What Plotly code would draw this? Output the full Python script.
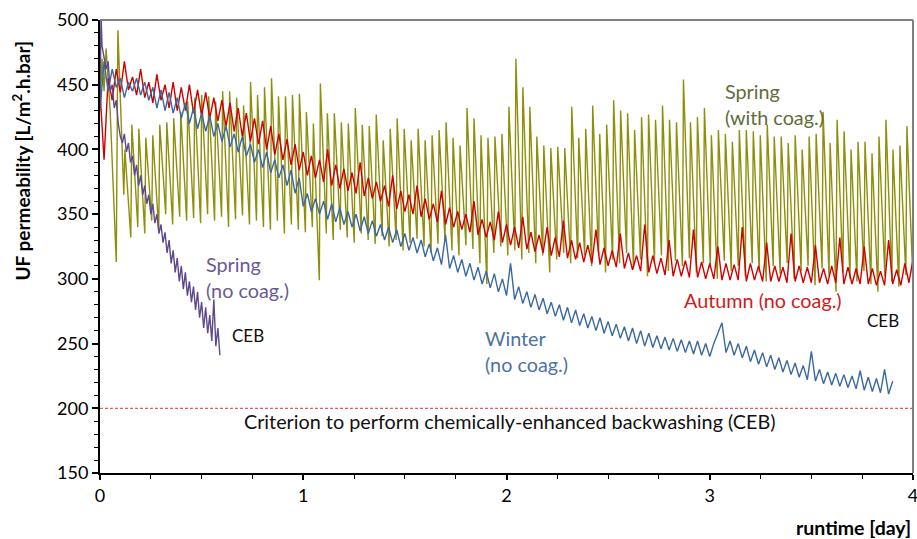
import numpy as np
import plotly.graph_objects as go

# ---------------- data ----------------
# Spring (with coagulant): sawtooth, one peak + following trough per filtration cycle
spring_coag_start_day = [0.0, 0.01, 0.02, 0.03, 0.05, 0.08]
spring_coag_start_val = [430, 470, 445, 478, 430, 313]
spring_coag_first_peak_day = 0.088
spring_coag_last_peak_day = 3.97
spring_coag_end = (4.0, 360)
spring_coag_peak = [
    492, 400, 419, 416, 409, 411, 419, 421, 424, 429, 437, 440, 442, 441, 437, 445, 445, 440, 434, 452, 442, 448, 455, 441,
    441, 442, 443, 429, 420, 451, 428, 428, 421, 420, 432, 419, 418, 427, 407, 416, 424, 416, 407, 416, 407, 411, 415, 421,
    409, 403, 432, 424, 411, 409, 410, 412, 433, 470, 448, 433, 410, 403, 401, 402, 401, 433, 409,
    416, 434, 412, 419, 438, 430, 428, 415, 425, 427, 423, 434, 423, 421, 454, 421, 425, 432, 411, 415, 412, 406, 415, 415,
    414, 411, 419, 410, 410, 405, 411, 400, 410, 412, 429, 405, 423, 414, 400, 406, 406, 397, 410, 423, 400, 403, 418,
]
spring_coag_trough = [
    365, 332, 340, 335, 345, 338, 350, 342, 348, 345, 347, 343, 350, 345, 348, 340, 346, 349, 342, 345, 340, 338, 345, 335,
    342, 338, 336, 340, 299, 335, 330, 338, 332, 328, 335, 330, 327, 333, 325, 330, 322, 328, 331, 325, 320, 327, 330, 322,
    318, 326, 323, 312, 296, 320, 325, 318, 322, 315, 320, 312, 318, 305, 315, 320, 312, 316, 318,
    310, 318, 305, 315, 312, 320, 308, 315, 302, 312, 318, 306, 314, 310, 316, 305, 312, 308, 300, 314, 306, 310, 302, 312,
    305, 298, 310, 304, 312, 300, 306, 310, 295, 308, 302, 290, 305, 300, 298, 306, 296, 290, 302, 298, 294, 303, 300,
]

# Autumn (no coagulant), sampled every 0.02 day from 0 to 4
autumn_step = 0.02
autumn_val = [
    445, 392, 455, 438, 462, 444, 468, 446, 456, 442,
    462, 440, 452, 436, 458, 438, 450, 432, 452, 430,
    448, 430, 450, 428, 446, 426, 444, 424, 440, 422,
    438, 418, 436, 414, 432, 410, 428, 406, 424, 404,
    422, 400, 418, 396, 412, 392, 408, 388, 404, 384,
    398, 380, 395, 378, 392, 375, 400, 372, 388, 370,
    385, 368, 382, 366, 390, 364, 378, 362, 375, 360,
    372, 356, 380, 354, 368, 352, 365, 350, 372, 348,
    362, 346, 358, 344, 368, 342, 355, 340, 352, 338,
    350, 336, 360, 334, 346, 332, 344, 330, 352, 328,
    342, 326, 340, 324, 348, 323, 336, 321, 334, 320,
    340, 318, 332, 317, 345, 316, 330, 315, 328, 313,
    326, 312, 338, 311, 324, 310, 322, 309, 335, 308,
    320, 307, 318, 306, 342, 305, 318, 304, 316, 303,
    330, 302, 315, 302, 314, 301, 338, 301, 313, 300,
    312, 300, 325, 299, 312, 299, 311, 299, 340, 298,
    312, 299, 310, 298, 328, 298, 310, 298, 309, 297,
    335, 298, 310, 297, 309, 297, 326, 297, 308, 296,
    310, 297, 332, 296, 309, 296, 308, 296, 325, 296,
    308, 295, 306, 295, 330, 296, 307, 295, 312, 297,
    315,
]

# Winter (no coagulant), sampled every 0.02 day from 0 to 3.9
winter_step = 0.02
winter_val = [
    430, 468, 445, 462, 448, 455, 440, 452, 445, 455,
    442, 452, 438, 448, 432, 446, 430, 444, 428, 440,
    424, 436, 420, 432, 416, 428, 414, 426, 410, 420,
    406, 418, 402, 412, 398, 410, 395, 404, 390, 400,
    386, 398, 382, 392, 378, 388, 372, 384, 366, 378,
    356, 366, 352, 362, 350, 360, 346, 358, 344, 355,
    342, 352, 340, 350, 337, 348, 335, 345, 333, 342,
    330, 340, 328, 338, 325, 335, 322, 332, 320, 330,
    317, 327, 314, 324, 311, 334, 308, 318, 305, 315,
    302, 312, 299, 309, 296, 306, 293, 304, 290, 300,
    287, 312, 284, 294, 281, 290, 278, 288, 276, 285,
    273, 282, 271, 280, 268, 278, 266, 276, 264, 273,
    262, 271, 260, 270, 258, 267, 256, 265, 254, 263,
    252, 262, 250, 260, 248, 258, 247, 256, 246, 255,
    245, 254, 244, 253, 243, 252, 242, 252, 241, 250,
    240, 250, 258, 266, 243, 252, 241, 250, 239, 248,
    236, 245, 234, 243, 232, 241, 230, 239, 228, 237,
    226, 235, 224, 233, 222, 244, 221, 230, 219, 228,
    218, 227, 217, 226, 216, 225, 215, 229, 214, 224,
    213, 223, 212, 230, 211, 221,
]

# Spring (no coagulant), sampled every 0.01 day from 0 to 0.59, plus the first spike
spring_nocoag_day = [0.0, 0.005] + [round(0.01 * i, 2) for i in range(1, 60)]
spring_nocoag_val = [
    430, 505,
    480, 470, 462, 468, 445, 450, 432, 438, 420, 410,
    405, 412, 398, 405, 390, 395, 380, 388, 372, 380,
    365, 372, 358, 365, 350, 358, 343, 350, 335, 342,
    328, 336, 320, 330, 312, 322, 305, 316, 298, 310,
    292, 305, 287, 298, 282, 294, 276, 290, 270, 282,
    262, 278, 258, 272, 252, 284, 248, 262, 241,
]

criterion_day = [0, 4]
criterion_val = [200, 200]

x_ticks = [0, 1, 2, 3, 4]
y_range = [150, 500]

# ---------------- build series ----------------
n_cycles = len(spring_coag_peak)
peak_days = np.linspace(spring_coag_first_peak_day, spring_coag_last_peak_day, n_cycles)
cycle = (spring_coag_last_peak_day - spring_coag_first_peak_day) / (n_cycles - 1)
sc_x = list(spring_coag_start_day)
sc_y = list(spring_coag_start_val)
for d, p, t in zip(peak_days, spring_coag_peak, spring_coag_trough):
    sc_x += [d, d + 0.85 * cycle]
    sc_y += [p, t]
sc_x.append(spring_coag_end[0])
sc_y.append(spring_coag_end[1])

autumn_day = np.arange(len(autumn_val)) * autumn_step
winter_day = np.arange(len(winter_val)) * winter_step

FONT = "Lato"
OLIVE = "#8f8f0c"
RED = "#d10000"
BLUE = "#3b68a0"
PURPLE = "#5e4a8a"

fig = go.Figure()
fig.add_trace(go.Scatter(x=sc_x, y=sc_y, mode="lines",
                         line=dict(color=OLIVE, width=1.4), hoverinfo="skip"))
fig.add_trace(go.Scatter(x=autumn_day, y=autumn_val, mode="lines",
                         line=dict(color=RED, width=1.4), hoverinfo="skip"))
fig.add_trace(go.Scatter(x=winter_day, y=winter_val, mode="lines",
                         line=dict(color=BLUE, width=1.4), hoverinfo="skip"))
fig.add_trace(go.Scatter(x=spring_nocoag_day, y=spring_nocoag_val, mode="lines",
                         line=dict(color=PURPLE, width=1.4), hoverinfo="skip"))
fig.add_trace(go.Scatter(x=criterion_day, y=criterion_val, mode="lines",
                         line=dict(color="#e03030", width=1, dash="3px,2px"), hoverinfo="skip"))

def txt(x, y, s, color, size=19.8, xanchor="left"):
    fig.add_annotation(x=x, y=y, xref="x", yref="y", text=s, showarrow=False,
                       xanchor=xanchor, yanchor="middle", align="left",
                       font=dict(family=FONT, size=size, color=color))

txt(3.065, 435, "Spring<br>(with coag.)", "#5f6d3a")
txt(3.26, 283.5, "Autumn (no coag.)", "#d11a1a", xanchor="center")
txt(1.884, 244, "Winter<br>(no coag.)", "#4a72a6")
txt(0.51, 301.5, "Spring<br>(no coag.)", "#6a5a94")
txt(0.64, 256.6, "CEB", "#111111", size=17)
txt(3.763, 268, "CEB", "#111111", size=17)
txt(2.017, 190, "Criterion to perform chemically-enhanced backwashing (CEB)", "#111111", xanchor="center")

fig.add_annotation(x=-0.097, y=0.69, xref="paper", yref="paper", textangle=-90,
                   text="<b>UF permeability [L/m<sup>2</sup>.h.bar]</b>", showarrow=False,
                   xanchor="center", yanchor="middle",
                   font=dict(family=FONT, size=19, color="black"))
fig.add_annotation(x=1.0, y=-0.121, xref="paper", yref="paper",
                   text="<b>runtime [day]</b>", showarrow=False,
                   xanchor="right", yanchor="middle",
                   font=dict(family=FONT, size=19.5, color="black"))

# top and right frame (grey)
fig.add_shape(type="line", xref="paper", yref="paper", x0=0, x1=1, y0=1, y1=1,
              line=dict(color="#808080", width=2))
fig.add_shape(type="line", xref="paper", yref="paper", x0=1, x1=1, y0=0, y1=1,
              line=dict(color="#808080", width=2))

fig.update_layout(
    width=917, height=539,
    margin=dict(l=100, r=4, t=20, b=66, autoexpand=False),
    paper_bgcolor="white", plot_bgcolor="white",
    showlegend=False,
    font=dict(family=FONT, size=18, color="black"),
    xaxis=dict(range=[0, 4], tickvals=x_ticks, ticks="outside", ticklen=5, tickwidth=1.5,
               tickcolor="black", showline=True, linecolor="black", linewidth=2,
               showgrid=False, zeroline=False, ticklabeloverflow="allow", automargin=False,
               minor=dict(dtick=0.25, ticks="outside", ticklen=4, tickwidth=1.2, tickcolor="black", showgrid=False),
               tickfont=dict(family=FONT, size=18, color="black")),
    yaxis=dict(range=y_range, dtick=50, ticks="outside", ticklen=6, tickwidth=1.5,
               tickcolor="black", showline=True, linecolor="black", linewidth=2,
               showgrid=False, zeroline=False, automargin=False,
               minor=dict(dtick=10, ticks="outside", ticklen=4, tickwidth=1.2, tickcolor="black", showgrid=False),
               tickfont=dict(family=FONT, size=18, color="black")),
)

fig.write_html("out.html", config={"displayModeBar": False},
               post_script="document.body.style.margin='0px';")
